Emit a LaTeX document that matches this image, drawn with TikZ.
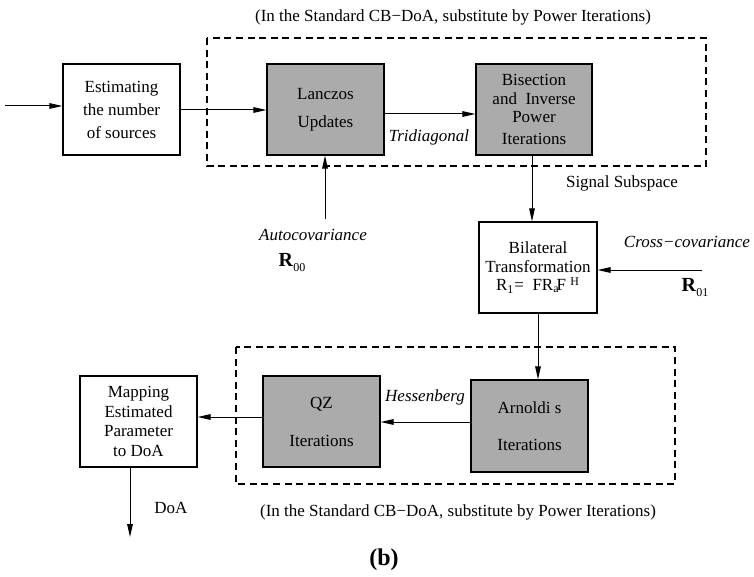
\documentclass[tikz,border=0pt]{standalone}
\usepackage{fontspec}
\setmainfont{Liberation Serif}
\usetikzlibrary{arrows.meta}
\definecolor{blockgray}{RGB}{171,171,171}

\begin{document}
\begin{tikzpicture}[x=0.5pt,y=-0.5pt,
  >={Triangle[length=6.5pt,width=2.8pt]},
  block/.style={draw,line width=0.6pt,inner sep=0pt,align=center,
    minimum width=58.5pt,minimum height=45.5pt,font=\fontsize{8.5}{11.5}\selectfont},
  gblock/.style={block,fill=blockgray},
  lbl/.style={font=\fontsize{8.5}{10}\selectfont},
  ilbl/.style={font=\fontsize{8.5}{10}\selectfont\itshape},
  dashbox/.style={dash pattern=on 3.5pt off 2.3pt,line width=0.6pt},
  flow/.style={->,line width=0.5pt}]
  \useasboundingbox (0,0) rectangle (754,577);

  % dashed groups
  \draw[dashbox] (207,38) rectangle (706,166);
  \draw[dashbox] (236,347) rectangle (675,484);

  % blocks
  \node[block] (est) at (121.5,109.5) {Estimating\\the number\\ of sources};
  \node[gblock] (lan) at (325.5,109.5) {Lanczos\\[2.5pt]Updates};
  \node[gblock,minimum width=58pt,font=\fontsize{8.5}{9.3}\selectfont] (bis) at (534,109.5)
    {Bisection\\and\ \ Inverse\\Power\\[1.5pt]Iterations};
  \node[block,minimum width=59pt,font=\fontsize{8.5}{9.3}\selectfont] (bil) at (538,267.5)
    {Bilateral\\Transformation\\R\textsubscript{1}=\ \ FR\textsubscript{a}\kern-1.5pt F\ \textsuperscript{H}};
  \node[block,font=\fontsize{8.5}{9.7}\selectfont] (map) at (138.5,421.5)
    {Mapping\\Estimated\\ Parameter\\to DoA};
  \node[gblock,font=\fontsize{8.5}{19}\selectfont] (qz) at (321.5,421.5) {QZ\\Iterations};
  \node[gblock,minimum height=46pt,font=\fontsize{8.5}{18.5}\selectfont] (arn) at (529.5,426)
    {Arnoldi s\\Iterations};

  % labels
  \node[lbl] (capt) at (453,17) {(In the Standard CB−DoA, substitute by Power Iterations)};
  \node[lbl] (capb) at (458,512) {(In the Standard CB−DoA, substitute by Power Iterations)};
  \node[ilbl] (tri) at (429,137) {Tridiagonal};
  \node[lbl] (sig) at (622,183) {Signal Subspace};
  \node[ilbl] (auto) at (313,235) {Autocovariance};
  \node (r00) at (292,263) {\fontsize{10}{12}\selectfont\textbf{R}\raisebox{-2.5pt}{\fontsize{6}{7}\selectfont 00}};
  \node[ilbl] (cross) at (687,242) {Cross−covariance};
  \node (r01) at (695,288) {\fontsize{10}{12}\selectfont\textbf{R}\raisebox{-2.5pt}{\fontsize{6}{7}\selectfont 01}};
  \node[ilbl] (hess) at (425,397) {Hessenberg};
  \node[lbl] (doa) at (171,508) {DoA};
  \node[font=\fontsize{12}{14}\selectfont\bfseries] (fig) at (384,560) {(b)};

  % free ends
  \coordinate (in) at (5,106);
  \coordinate (ac) at (325,219);
  \coordinate (crs) at (702,270);
  \coordinate (out) at (130,537);

  % connectors
  \draw[flow] (in) -- (in -| est.west);
  \draw[flow] ([yshift=-0.25pt]est.east) -- ([yshift=-0.25pt]lan.west);
  \draw[flow] ([yshift=-2.25pt]lan.east) -- ([yshift=-2.25pt]bis.west);
  \draw[flow] (ac) -- (ac |- lan.south);
  \draw[flow] ([xshift=-1pt]bis.south) -- ([xshift=-1pt]bis.south |- bil.north);
  \draw[flow] (crs) -- (crs -| bil.east);
  \draw[flow] (bil.south) -- (bil.south |- arn.north);
  \draw[flow] ([yshift=2pt]arn.west) -- ([yshift=2pt]arn.west -| qz.east);
  \draw[flow] ([yshift=2.25pt]qz.west) -- ([yshift=2.25pt]qz.west -| map.east);
  \draw[flow] (out |- map.south) -- (out);
\end{tikzpicture}
\end{document}
